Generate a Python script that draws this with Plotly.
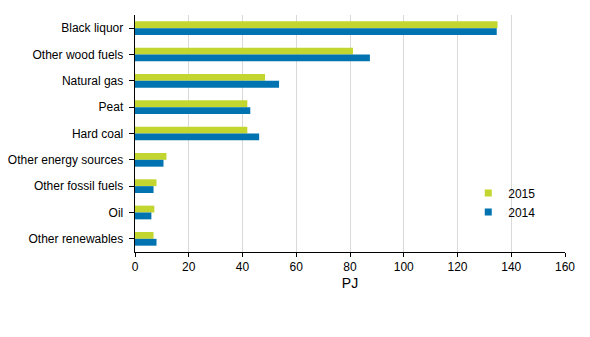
import plotly.graph_objects as go

categories = ["Black liquor", "Other wood fuels", "Natural gas", "Peat", "Hard coal",
              "Other energy sources", "Other fossil fuels", "Oil", "Other renewables"]
values_2015 = [134.9, 81.1, 48.4, 41.8, 41.8, 11.7, 8.0, 7.2, 6.9]
values_2014 = [134.6, 87.4, 53.6, 42.9, 46.2, 10.6, 6.9, 6.1, 8.0]
x_ticks = [0, 20, 40, 60, 80, 100, 120, 140, 160]
colors = {"2015": "#c3d630", "2014": "#0073b0"}

fig = go.Figure()
fig.add_trace(go.Bar(y=categories, x=values_2015, name="2015", orientation="h",
                     marker=dict(color=colors["2015"], line=dict(width=0)), showlegend=False))
fig.add_trace(go.Bar(y=categories, x=values_2014, name="2014", orientation="h",
                     marker=dict(color=colors["2014"], line=dict(width=0)), showlegend=False))
for name in ["2015", "2014"]:
    fig.add_trace(go.Scatter(x=[None], y=[None], mode="markers", name=name,
                             marker=dict(symbol="square", size=7, color=colors[name])))

fig.update_layout(
    width=590, height=337,
    margin=dict(l=135, r=25, t=15, b=85),
    paper_bgcolor="white", plot_bgcolor="white",
    font=dict(family="Liberation Sans, Arial, sans-serif", size=12, color="#000000"),
    barmode="group", bargap=0.48, bargroupgap=0,
    showlegend=True,
    legend=dict(x=0.775, y=0.31, xanchor="left", yanchor="top", traceorder="normal",
                bgcolor="rgba(0,0,0,0)", font=dict(size=12), itemwidth=30,
                tracegroupgap=0),
    xaxis=dict(range=[0, 160], tickvals=x_ticks, showgrid=True, gridcolor="#d9d9d9",
               gridwidth=1, zeroline=False, showline=True, linecolor="#000000",
               linewidth=1, ticks="outside", ticklen=4, tickcolor="#000000",
               title=dict(text="PJ", standoff=4), automargin=False),
    yaxis=dict(autorange="reversed", showline=True, linecolor="#000000", linewidth=1,
               ticks="outside", ticklen=5, tickcolor="#000000", showgrid=False,
               ticksuffix=" ", automargin=False),
)

fig.write_html("out.html")
